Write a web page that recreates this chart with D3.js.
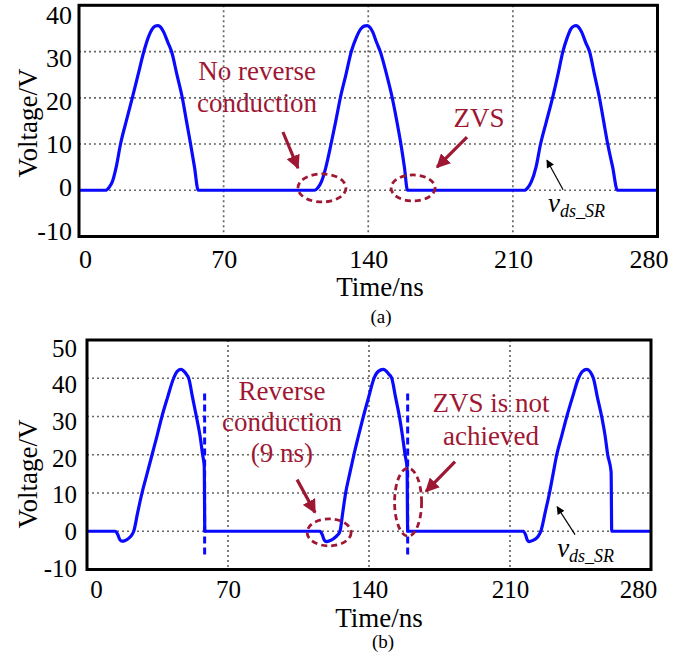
<!DOCTYPE html>
<html>
<head>
<meta charset="utf-8">
<script src="https://cdn.jsdelivr.net/npm/d3@7/dist/d3.min.js"></script>
<style>
  html, body { margin: 0; padding: 0; background: #fff; }
  svg { display: block; }
  text { font-family: "Liberation Serif", "Times New Roman", serif; }
</style>
</head>
<body>
<svg id="chart" width="686" height="657"></svg>
<script>
// ---------------- DATA ----------------
const xTicks = [0, 70, 140, 210, 280];
const yTicksA = [-10, 0, 10, 20, 30, 40];
const yTicksB = [-10, 0, 10, 20, 30, 40, 50];
const xLabel = "Time/ns";
const yLabel = "Voltage/V";

// (a) v_ds_SR waveform: [time ns, voltage V]
const waveA = [
  [0, 0], [12.9, 0], [14.5, 0.6], [16.1, 1.8], [18, 5], [20.1, 10], [22.9, 15], [25.8, 20], [28.6, 25], [31.4, 30],
  [33.5, 33], [35.5, 34.9], [37, 35.5], [38.2, 35.6], [39.5, 35.3], [41, 34.2], [43, 32], [44.8, 30], [47.4, 25],
  [50, 20], [52, 15], [54, 10], [55.9, 5], [57.7, 0],
  [114, 0], [115.7, 0.6], [117.3, 1.8], [119.5, 5], [122, 10], [124.3, 15], [126.5, 20], [129.2, 25], [131.8, 30],
  [134.2, 33], [136.4, 34.9], [138, 35.5], [139.4, 35.6], [140.7, 35.3], [142.2, 34.2], [144, 32], [145.8, 30],
  [148.9, 25], [151.6, 20], [153.8, 15], [155.8, 10], [157.5, 5], [159, 0],
  [215.7, 0], [217.3, 0.6], [218.9, 1.8], [221.2, 5], [223.4, 10], [226.3, 15], [229.2, 20], [231.8, 25], [234.2, 30],
  [236.3, 33], [238.1, 34.9], [239.5, 35.5], [240.6, 35.6], [241.8, 35.3], [243.3, 34.2], [245.2, 32], [247.1, 30],
  [249.5, 25], [251.9, 20], [253.9, 15], [255.9, 10], [258.3, 5], [260.6, 0], [280, 0]
];

// (b) v_ds_SR waveform: [time ns, voltage V]
const waveB = [
  [0, 0], [14.1, 0], [15.2, -0.8], [16.3, -2.2], [17.4, -2.6], [19, -2.4], [20.8, -1.8], [22.2, -1], [23.2, 0],
  [25.2, 5], [27.3, 10], [29.8, 15], [32.3, 20], [34.8, 25], [37.2, 30], [40, 35], [43, 40], [44.8, 41.8],
  [46.7, 42.3], [48, 41.9], [49.4, 41], [50.5, 40], [52.4, 35], [54.3, 30], [56.1, 25], [57.4, 20], [58.2, 17],
  [58.5, 0],
  [115.7, 0], [116.8, -0.9], [117.8, -2.3], [118.8, -2.7], [120.5, -2.5], [122.5, -1.9], [124.4, -1], [125.6, 0],
  [127, 5], [128.4, 10], [130.4, 15], [132.5, 20], [134.8, 25], [137.2, 30], [139.8, 35], [142.5, 40], [144.6, 41.8],
  [147.1, 42.3], [148.5, 41.9], [150, 41], [151.3, 40], [153.2, 35], [155.1, 30], [156.6, 25], [157.9, 20],
  [158.9, 16.5], [159.2, 0],
  [216.6, 0], [217.7, -0.9], [218.6, -2.3], [219.6, -2.7], [221.3, -2.4], [223.2, -1.8], [224.4, -1], [225.3, 0],
  [227.5, 5], [229.6, 10], [231.4, 15], [233.2, 20], [235.7, 25], [238.2, 30], [241, 35], [244, 40], [246, 41.8],
  [248.1, 42.3], [249.5, 41.9], [250.6, 41], [251.4, 40], [253.4, 35], [255.5, 30], [257.2, 25], [258.5, 20],
  [260.2, 15.5], [260.5, 0], [280, 0]
];

// (b) dashed gate markers: time, top V, bottom V
const dashTimesB = [58.4, 159.2];
const dashTopB = 36;
const dashBottomB = -6.5;

// ---------------- LAYOUT ----------------
const svg = d3.select("#chart");
const RED = "#9e1733";
const BLUE = "#0a0aff";

const defs = svg.append("defs");
defs.append("marker").attr("id", "redHead")
  .attr("viewBox", "0 0 10 10").attr("refX", 9).attr("refY", 5)
  .attr("markerUnits", "userSpaceOnUse").attr("markerWidth", 14).attr("markerHeight", 14)
  .attr("orient", "auto")
  .append("path").attr("d", "M0,0 L10,5 L0,10 Z").attr("fill", RED);
defs.append("marker").attr("id", "blackHead")
  .attr("viewBox", "0 0 10 10").attr("refX", 9).attr("refY", 5)
  .attr("markerUnits", "userSpaceOnUse").attr("markerWidth", 9).attr("markerHeight", 8)
  .attr("orient", "auto")
  .append("path").attr("d", "M0,0 L10,5 L0,10 Z").attr("fill", "#000");

function panel(cfg) {
  const x = d3.scaleLinear().domain([0, 280]).range([cfg.left, cfg.right]);
  const y = d3.scaleLinear().domain(cfg.yDomain).range([cfg.bottom, cfg.top]);
  // tick labels in the original sit on a slightly compressed ladder
  const yLab = d3.scaleLinear().domain(cfg.yDomain).range(cfg.yLabRange);
  const g = svg.append("g");

  // gridlines
  g.append("g").selectAll("line")
    .data(cfg.yTicks.filter(d => d !== cfg.yDomain[0] && d !== cfg.yDomain[1]))
    .join("line")
    .attr("x1", cfg.left).attr("x2", cfg.right)
    .attr("y1", d => y(d)).attr("y2", d => y(d))
    .attr("stroke", "#666").attr("stroke-width", 1.7).attr("stroke-dasharray", "2,3");
  g.append("g").selectAll("line")
    .data(xTicks.slice(1, -1))
    .join("line")
    .attr("x1", d => x(d)).attr("x2", d => x(d))
    .attr("y1", cfg.top).attr("y2", cfg.bottom)
    .attr("stroke", "#666").attr("stroke-width", 1.7).attr("stroke-dasharray", "2,3");

  // x axis labels
  const xAxis = d3.axisBottom(x).tickValues(xTicks).tickSize(0).tickPadding(0).tickFormat(d => String(d));
  const xa = g.append("g").attr("transform", `translate(0,${cfg.xLabelY})`).call(xAxis);
  xa.select(".domain").remove();
  xa.selectAll("text").attr("font-size", cfg.tickFont).attr("fill", "#000")
    .attr("font-family", "Liberation Serif").attr("dy", 0)
    .attr("dx", (d, i) => i === 0 ? cfg.firstDx : (i === xTicks.length - 1 ? cfg.lastDx : 0));

  // y axis labels
  const yAxis = d3.axisLeft(yLab).tickValues(cfg.yTicks).tickSize(0).tickPadding(cfg.yPad).tickFormat(d => String(d));
  const ya = g.append("g").attr("transform", `translate(${cfg.left},0)`).call(yAxis);
  ya.select(".domain").remove();
  ya.selectAll("text").attr("font-size", cfg.tickFont).attr("fill", "#000")
    .attr("font-family", "Liberation Serif").attr("dy", "0.35em");

  // waveform
  const line = d3.line().x(d => x(d[0])).y(d => y(d[1])).curve(d3.curveMonotoneX);
  g.append("path").datum(cfg.wave).attr("d", line)
    .attr("fill", "none").attr("stroke", BLUE).attr("stroke-width", 3.2)
    .attr("stroke-linejoin", "round");

  // frame
  g.append("rect").attr("x", cfg.left).attr("y", cfg.top)
    .attr("width", cfg.right - cfg.left).attr("height", cfg.bottom - cfg.top)
    .attr("fill", "none").attr("stroke", "#000").attr("stroke-width", 3);

  // axis titles
  g.append("text").attr("x", cfg.xTitleX).attr("y", cfg.xTitleY)
    .attr("text-anchor", "middle").attr("font-size", 27).text(xLabel);
  g.append("text").attr("transform", `translate(37,${cfg.yTitleY}) rotate(-90)`)
    .attr("text-anchor", "middle").attr("font-size", 27).text(yLabel);
  g.append("text").attr("x", cfg.capX).attr("y", cfg.capY)
    .attr("text-anchor", "middle").attr("font-size", 19).text(cfg.caption);

  return { x, y, g };
}

function redText(g, cx, baseY, lines, gap) {
  const t = g.append("text").attr("x", cx).attr("y", baseY).attr("text-anchor", "middle")
    .attr("font-size", 27).attr("fill", RED);
  lines.forEach((s, i) => t.append("tspan").attr("x", cx).attr("y", baseY + i * gap).text(s));
}
function redArrow(g, x1, y1, x2, y2) {
  g.append("line").attr("x1", x1).attr("y1", y1).attr("x2", x2).attr("y2", y2)
    .attr("stroke", RED).attr("stroke-width", 3.2).attr("marker-end", "url(#redHead)");
}
function redEllipse(g, cx, cy, rx, ry) {
  g.append("ellipse").attr("cx", cx).attr("cy", cy).attr("rx", rx).attr("ry", ry)
    .attr("fill", "none").attr("stroke", RED).attr("stroke-width", 2.8).attr("stroke-dasharray", "6,4");
}
function vdsLabel(g, x0, base) {
  const t = g.append("text").attr("x", x0).attr("y", base).attr("font-style", "italic").attr("fill", "#000");
  t.append("tspan").attr("font-size", 27).text("v");
  t.append("tspan").attr("font-size", 18).attr("dy", 5).text("ds_SR");
}
function blackArrow(g, x1, y1, x2, y2) {
  g.append("line").attr("x1", x1).attr("y1", y1).attr("x2", x2).attr("y2", y2)
    .attr("stroke", "#000").attr("stroke-width", 1.2).attr("marker-end", "url(#blackHead)");
}

// ---------------- PANEL (a) ----------------
const A = panel({
  left: 79, right: 657.5, top: 5.3, bottom: 236.5, yDomain: [-10, 40], yTicks: yTicksA, yLabRange: [230, 14],
  wave: waveA, tickFont: 26, xLabelY: 268, yPad: 7, firstDx: 6, lastDx: -9,
  xTitleX: 380, xTitleY: 296, yTitleY: 123, caption: "(a)", capX: 381, capY: 323
});
redText(A.g, A.x(86.2), A.y(23.9), ["No reverse", "conduction"], 32);
redArrow(A.g, A.x(98.7), A.y(12.6), A.x(106), A.y(4.8));
redEllipse(A.g, A.x(117.6), A.y(0.5), 24, 14);
redText(A.g, A.x(193.6), A.y(13.7), ["ZVS"], 32);
redArrow(A.g, A.x(187.8), A.y(11.5), A.x(173.3), A.y(5.0));
redEllipse(A.g, A.x(161.7), A.y(0.5), 22, 13);
vdsLabel(A.g, A.x(227), A.y(-4.7));
blackArrow(A.g, A.x(234.3), A.y(0.1), A.x(226.5), A.y(6.5));

// ---------------- PANEL (b) ----------------
const B = panel({
  left: 87, right: 651, top: 340, bottom: 569.5, yDomain: [-10, 50], yTicks: yTicksB, yLabRange: [567.5, 347.5],
  wave: waveB, tickFont: 25, xLabelY: 598, yPad: 10, firstDx: 9, lastDx: -13,
  xTitleX: 379, xTitleY: 627, yTitleY: 474, caption: "(b)", capX: 383, capY: 648
});
B.g.append("g").selectAll("line").data(dashTimesB).join("line")
  .attr("x1", d => B.x(d)).attr("x2", d => B.x(d))
  .attr("y1", B.y(dashTopB)).attr("y2", B.y(dashBottomB))
  .attr("stroke", BLUE).attr("stroke-width", 3).attr("stroke-dasharray", "7,4");
redText(B.g, B.x(96.8), B.y(34.2), ["Reverse", "conduction", "(9 ns)"], 31);
redArrow(B.g, B.x(104.3), B.y(13.5), B.x(113.2), B.y(4.9));
redEllipse(B.g, B.x(120.2), B.y(-0.3), 22, 13.5);
redText(B.g, B.x(200.6), B.y(31.1), ["ZVS is not", "achieved"], 33);
redArrow(B.g, B.x(182.7), B.y(18.2), B.x(168.3), B.y(10.4));
redEllipse(B.g, B.x(159.4), B.y(7.6), 13.5, 34);
vdsLabel(B.g, B.x(233.4), B.y(-6.7));
blackArrow(B.g, B.x(242.3), B.y(-0.9), B.x(233.4), B.y(6.4));
</script>
</body>
</html>
